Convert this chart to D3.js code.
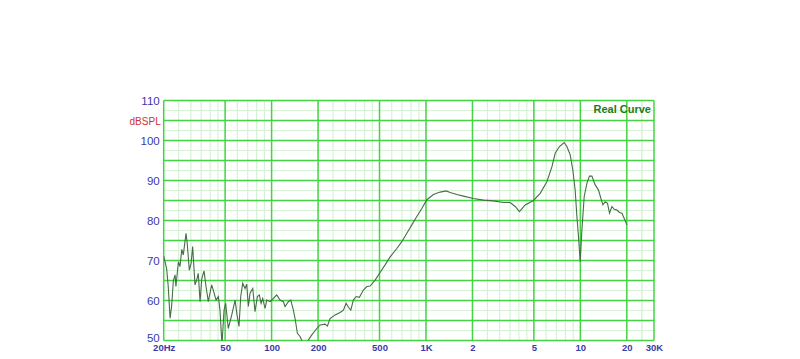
<!DOCTYPE html>
<html lang="en">
<head>
    <meta charset="UTF-8">
    <title>Real Curve</title>
    <script src="https://d3js.org/d3.v7.min.js"></script>
    <style>
        body {
            margin: 0;
            background-color: white;
            font-family: 'Liberation Sans', Arial, sans-serif;
        }
        .axis path, .axis line { display: none; }
    </style>
</head>
<body>
    <div id="chart"></div>

    <script>
        // Frequency response (Hz, dB SPL)
        const freqs = [
            20, 20.9, 21.4, 22.0, 22.5, 23.1, 23.7, 24.0, 24.9, 25.5, 26.2, 26.8, 27.9, 28.4, 29.3,
            30.1, 30.8, 31.9, 32.7, 33.5, 34.4, 35.3, 36.5, 37.6, 38.9, 40.9, 41.9, 43.7, 45.2, 46.3,
            47.7, 49.2, 50.4, 52.4, 55.2, 58.0, 59.5, 61.5, 63.1, 65.0, 67.3, 69.0, 70.7, 72.5, 75.5,
            78.1, 80.9, 83.3, 85.5, 87.6, 90.7, 93.0, 97.7, 102.6, 108, 113.4, 119.2, 122.2, 128.4, 133.1,
            138.4, 141.9, 146.9, 152.9, 159.2, 169, 182.1, 196.2, 206, 222, 229.8, 239, 257.8, 277.8,
            291.8, 303.9, 314.5, 325.8, 338.7, 352.6, 370.4, 393.3, 413.8, 434.6, 468.2, 504.4, 543.5,
            585.7, 647.2, 697.4, 751.4, 809.7, 872.4, 940, 1013, 1118, 1235, 1351, 1434, 1585, 1749,
            2030, 2357, 2736, 3176, 3510, 3782, 4034, 4391, 4970, 5494, 6070, 6540, 6871, 7327, 7857,
            8181, 8595, 8948, 9261, 9498, 9727, 9977, 10234, 10592, 11027, 11464, 11878, 12480, 13112,
            13591, 14003, 14488, 14997, 15453, 16014, 16573, 17254, 17938, 18592, 19242, 20028
        ];
        const spl = [
            71.1, 68.0, 63.5, 55.6, 58.5, 65.0, 66.4, 63.5, 69.7, 68.5, 72.8, 71.4, 76.8, 74.3, 67.6,
            69.3, 73.5, 63.9, 65.1, 66.8, 59.7, 65.5, 67.4, 63.5, 59.7, 63.9, 62.6, 60.1, 61.0, 57.6,
            49.0, 57.6, 59.3, 53.0, 56.4, 60.1, 56.8, 53.5, 61.0, 64.3, 63.0, 64.1, 58.5, 61.8, 63.0,
            57.2, 61.0, 61.4, 59.3, 60.5, 58.0, 60.1, 59.7, 60.5, 61.4, 60.1, 59.7, 58.5, 59.7, 60.1,
            57.6, 55.5, 51.8, 51.0, 49.5, 49.5, 51.4, 53.0, 53.9, 54.1, 53.6, 55.5, 56.4, 57.0,
            57.6, 59.3, 58.3, 57.6, 60.1, 61.0, 60.8, 62.6, 63.5, 63.6, 65.1, 67.0, 68.9,
            70.9, 73.0, 74.7, 76.8, 78.9, 81.0, 83.0, 85.2, 86.5, 87.1, 87.4, 87.0, 86.5, 86.1,
            85.5, 85.1, 84.9, 84.5, 84.5, 83.5, 82.2, 83.9, 85.0, 86.8, 89.7, 93.4, 96.8, 98.5, 99.5,
            98.5, 96.4, 92.5, 87.5, 81.0, 76.0, 69.7, 77.6, 86.0, 89.3, 91.1, 91.1, 88.9, 87.6,
            85.5, 83.9, 84.7, 84.3, 81.8, 83.5, 82.8, 82.6, 82.0, 81.8, 80.5, 78.9
        ];

        const yTicks = [50, 60, 70, 80, 90, 100, 110];
        const xTicks = [20, 50, 100, 200, 500, 1000, 2000, 5000, 10000, 20000, 30000];
        const xTickLabels = ["20Hz", "50", "100", "200", "500", "1K", "2", "5", "10", "20", "30K"];
        const majorY = d3.range(50, 111, 5);
        const minorY = d3.range(52.5, 110, 5);
        const majorX = [20, 50, 100, 200, 500, 1000, 2000, 5000, 10000, 20000, 30000];
        const minorSteps = [2.5, 3, 3.5, 4, 4.5, 6, 7, 8, 9];

        const STYLES = {
            major: "#42d442",
            minor: "#d6f3d6",
            curve: "#466e46",
            tick: "#3a3aaa",
            unit: "#cc3333",
            title: "#1c7a1c",
            margin: { top: 100.5, right: 146, bottom: 18.5, left: 163.7 }
        };

        const W = 800, H = 359;
        const width = W - STYLES.margin.left - STYLES.margin.right;
        const height = H - STYLES.margin.top - STYLES.margin.bottom;

        const svg = d3.select("#chart").append("svg")
            .attr("width", W)
            .attr("height", H);

        const g = svg.append("g")
            .attr("transform", `translate(${STYLES.margin.left},${STYLES.margin.top})`);

        const x = d3.scaleLog().domain([20, 30000]).range([0, width]);
        const y = d3.scaleLinear().domain([50, 110]).range([height, 0]);

        // minor x values: every step inside each decade
        const minorX = [];
        [10, 100, 1000, 10000].forEach(dec => {
            minorSteps.forEach(m => {
                const v = dec * m;
                if (v > 20 && v < 30000 && !majorX.includes(v)) minorX.push(v);
            });
        });
        minorX.push(25000);

        // Minor grid
        g.append("g").selectAll("line").data(minorX).enter().append("line")
            .attr("x1", d => x(d)).attr("x2", d => x(d))
            .attr("y1", 0).attr("y2", height)
            .attr("stroke", STYLES.minor).attr("stroke-width", 1.2);

        g.append("g").selectAll("line").data(minorY).enter().append("line")
            .attr("x1", 0).attr("x2", width)
            .attr("y1", d => y(d)).attr("y2", d => y(d))
            .attr("stroke", STYLES.minor).attr("stroke-width", 1.2);

        // Major grid
        g.append("g").selectAll("line").data(majorX).enter().append("line")
            .attr("x1", d => x(d)).attr("x2", d => x(d))
            .attr("y1", 0).attr("y2", height)
            .attr("stroke", STYLES.major).attr("stroke-width", 1.5);

        g.append("g").selectAll("line").data(majorY).enter().append("line")
            .attr("x1", 0).attr("x2", width)
            .attr("y1", d => y(d)).attr("y2", d => y(d))
            .attr("stroke", STYLES.major).attr("stroke-width", 1.5);

        // Curve, clipped to plot area
        svg.append("defs").append("clipPath").attr("id", "plot-clip")
            .append("rect").attr("width", width).attr("height", height);

        const line = d3.line()
            .x((d, i) => x(freqs[i]))
            .y(d => y(d));

        g.append("path")
            .datum(spl)
            .attr("clip-path", "url(#plot-clip)")
            .attr("fill", "none")
            .attr("stroke", STYLES.curve)
            .attr("stroke-width", 1.1)
            .attr("d", line);

        // Axes
        g.append("g")
            .attr("class", "axis")
            .call(d3.axisLeft(y).tickValues(yTicks).tickSize(0).tickPadding(4))
            .selectAll("text")
            .attr("dy", (d) => d === 50 ? "0.1em" : "0.32em")
            .style("font-size", "11.5px")
            .style("font-family", "'Liberation Sans', Arial, sans-serif")
            .attr("fill", STYLES.tick);

        g.append("g")
            .attr("class", "axis")
            .attr("transform", `translate(0,${height})`)
            .call(d3.axisBottom(x).tickValues(xTicks).tickSize(0).tickPadding(4)
                .tickFormat((d, i) => xTickLabels[i]))
            .selectAll("text")
            .style("font-size", "9.5px")
            .style("font-weight", "bold")
            .style("font-family", "'Liberation Sans', Arial, sans-serif")
            .attr("fill", STYLES.tick);

        // Unit label
        g.append("text")
            .attr("x", -3)
            .attr("y", y(105) + 4)
            .attr("text-anchor", "end")
            .style("font-size", "10px")
            .attr("fill", STYLES.unit)
            .text("dBSPL");

        // Title
        g.append("text")
            .attr("x", width - 3)
            .attr("y", 12)
            .attr("text-anchor", "end")
            .style("font-size", "11px")
            .style("font-weight", "bold")
            .attr("fill", STYLES.title)
            .text("Real Curve");
    </script>
</body>
</html>
